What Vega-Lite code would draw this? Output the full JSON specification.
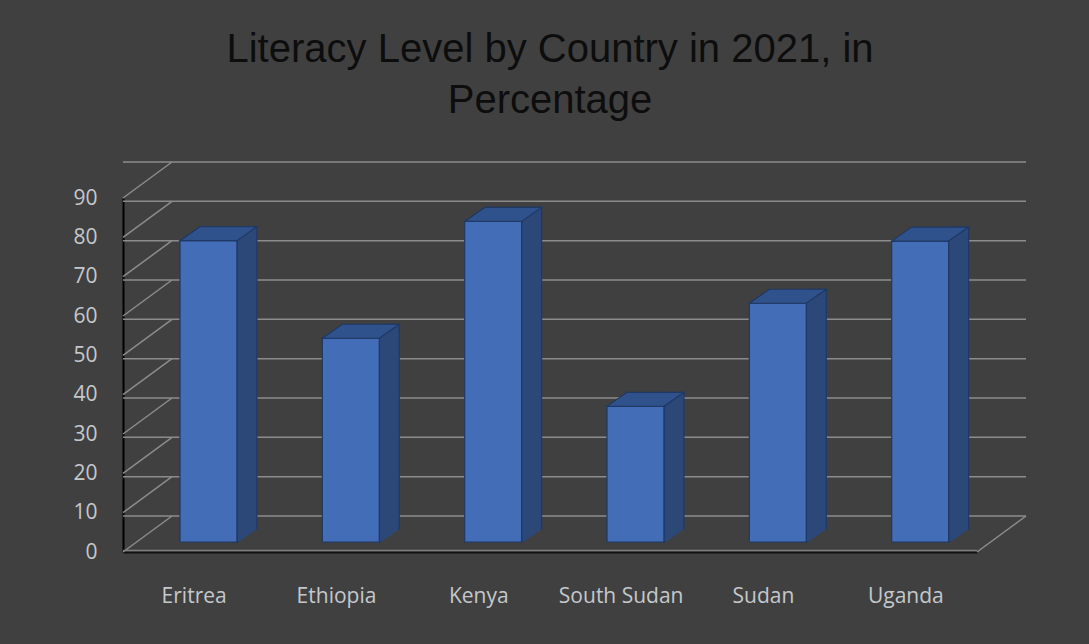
{
  "$schema": "https://vega.github.io/schema/vega-lite/v6.json",
  "width": 854,
  "height": 354,
  "autosize": {"type": "none"},
  "padding": {"left": 123, "top": 198, "right": 112, "bottom": 92},
  "background": "#404040",
  "title": {
    "text": ["Literacy Level by Country in 2021, in", "Percentage"],
    "font": "Liberation Sans",
    "fontSize": 40,
    "fontWeight": "normal",
    "color": "#0d0d0d",
    "lineHeight": 51,
    "anchor": "middle",
    "frame": "group",
    "offset": 40
  },
  "config": {
    "view": {"stroke": null},
    "axis": {
      "ticks": false,
      "grid": false,
      "domain": true,
      "domainWidth": 2,
      "labelFont": "Open Sans",
      "labelFontSize": 21,
      "labelColor": "#c4c8cc"
    },
    "axisX": {"labelAngle": 0, "domainColor": "#111111", "labelPadding": 33},
    "axisY": {"domainColor": "#000000", "labelPadding": 26}
  },
  "datasets": {
    "bars": [
      {"country": "Eritrea", "literacy": 76.6},
      {"country": "Ethiopia", "literacy": 51.8},
      {"country": "Kenya", "literacy": 81.5},
      {"country": "South Sudan", "literacy": 34.5},
      {"country": "Sudan", "literacy": 60.7},
      {"country": "Uganda", "literacy": 76.5}
    ],
    "grid": [
      {"v": 0}, {"v": 10}, {"v": 20}, {"v": 30}, {"v": 40},
      {"v": 50}, {"v": 60}, {"v": 70}, {"v": 80}, {"v": 90}
    ],
    "floor": [{"v": 0}]
  },
  "layer": [
    {
      "data": {"name": "grid"},
      "mark": {"type": "rule", "color": "#8c8c8c", "strokeWidth": 1.5, "xOffset": 49, "x2Offset": 49, "yOffset": -36},
      "encoding": {
        "y": {"field": "v", "type": "quantitative", "scale": {"domain": [0, 90], "nice": false, "zero": true}, "axis": {"title": null, "values": [0, 10, 20, 30, 40, 50, 60, 70, 80, 90]}}
      }
    },
    {
      "data": {"name": "grid"},
      "mark": {"type": "rule", "color": "#8c8c8c", "strokeWidth": 1.5, "x2Offset": 49, "y2Offset": -36},
      "encoding": {
        "x": {"value": 0},
        "x2": {"value": 0},
        "y": {"field": "v", "type": "quantitative", "axis": {"title": null, "values": [0, 10, 20, 30, 40, 50, 60, 70, 80, 90]}},
        "y2": {"field": "v"}
      }
    },
    {
      "data": {"name": "floor"},
      "mark": {"type": "rule", "color": "#8c8c8c", "strokeWidth": 1.5, "x2Offset": 49, "y2Offset": -36},
      "encoding": {
        "x": {"value": "width"},
        "x2": {"value": "width"},
        "y": {"field": "v", "type": "quantitative", "axis": {"title": null, "values": [0, 10, 20, 30, 40, 50, 60, 70, 80, 90]}},
        "y2": {"field": "v"}
      }
    },
    {
      "data": {"name": "floor"},
      "mark": {"type": "rule", "color": "#7f7f7f", "strokeWidth": 1.5, "yOffset": -1.5},
      "encoding": {
        "y": {"field": "v", "type": "quantitative", "axis": {"title": null, "values": [0, 10, 20, 30, 40, 50, 60, 70, 80, 90]}}
      }
    },
    {
      "data": {"name": "bars"},
      "mark": {"type": "bar", "width": 20, "xOffset": 52.75, "yOffset": -24, "y2Offset": -10, "color": "#2c4878", "stroke": "#1f3864", "strokeWidth": 1.2},
      "encoding": {
        "x": {"field": "country", "type": "nominal", "sort": null, "scale": {"paddingInner": 0.6, "paddingOuter": 0.3}, "axis": {"title": null}},
        "y": {"field": "literacy", "type": "quantitative", "axis": {"title": null, "values": [0, 10, 20, 30, 40, 50, 60, 70, 80, 90]}},
        "y2": {"datum": 0}
      }
    },
    {
      "data": {"name": "bars"},
      "mark": {"type": "point", "shape": "M4.275,-0.88 L6.5,-2.4375 L6.5,-0.8 L4.275,-0.8 Z", "size": 400, "filled": true, "color": "#404040", "opacity": 1, "strokeWidth": 0},
      "encoding": {
        "x": {"field": "country", "type": "nominal", "sort": null, "axis": {"title": null}},
        "y": {"datum": 0, "type": "quantitative", "axis": {"title": null, "values": [0, 10, 20, 30, 40, 50, 60, 70, 80, 90]}}
      }
    },
    {
      "data": {"name": "bars"},
      "mark": {"type": "bar", "xOffset": 14.3, "yOffset": -10, "y2Offset": -10, "color": "#436db7", "stroke": "#1f3864", "strokeWidth": 1.2},
      "encoding": {
        "x": {"field": "country", "type": "nominal", "sort": null, "axis": {"title": null}},
        "y": {"field": "literacy", "type": "quantitative", "axis": {"title": null, "values": [0, 10, 20, 30, 40, 50, 60, 70, 80, 90]}},
        "y2": {"datum": 0}
      }
    },
    {
      "data": {"name": "bars"},
      "mark": {"type": "point", "shape": "M-1.415,-1 L4.275,-1 L6.275,-2.4 L0.585,-2.4 Z", "size": 400, "filled": true, "color": "#30528c", "opacity": 1, "stroke": "#1f3864", "strokeWidth": 1.2},
      "encoding": {
        "x": {"field": "country", "type": "nominal", "sort": null, "axis": {"title": null}},
        "y": {"field": "literacy", "type": "quantitative", "axis": {"title": null, "values": [0, 10, 20, 30, 40, 50, 60, 70, 80, 90]}}
      }
    }
  ]
}
